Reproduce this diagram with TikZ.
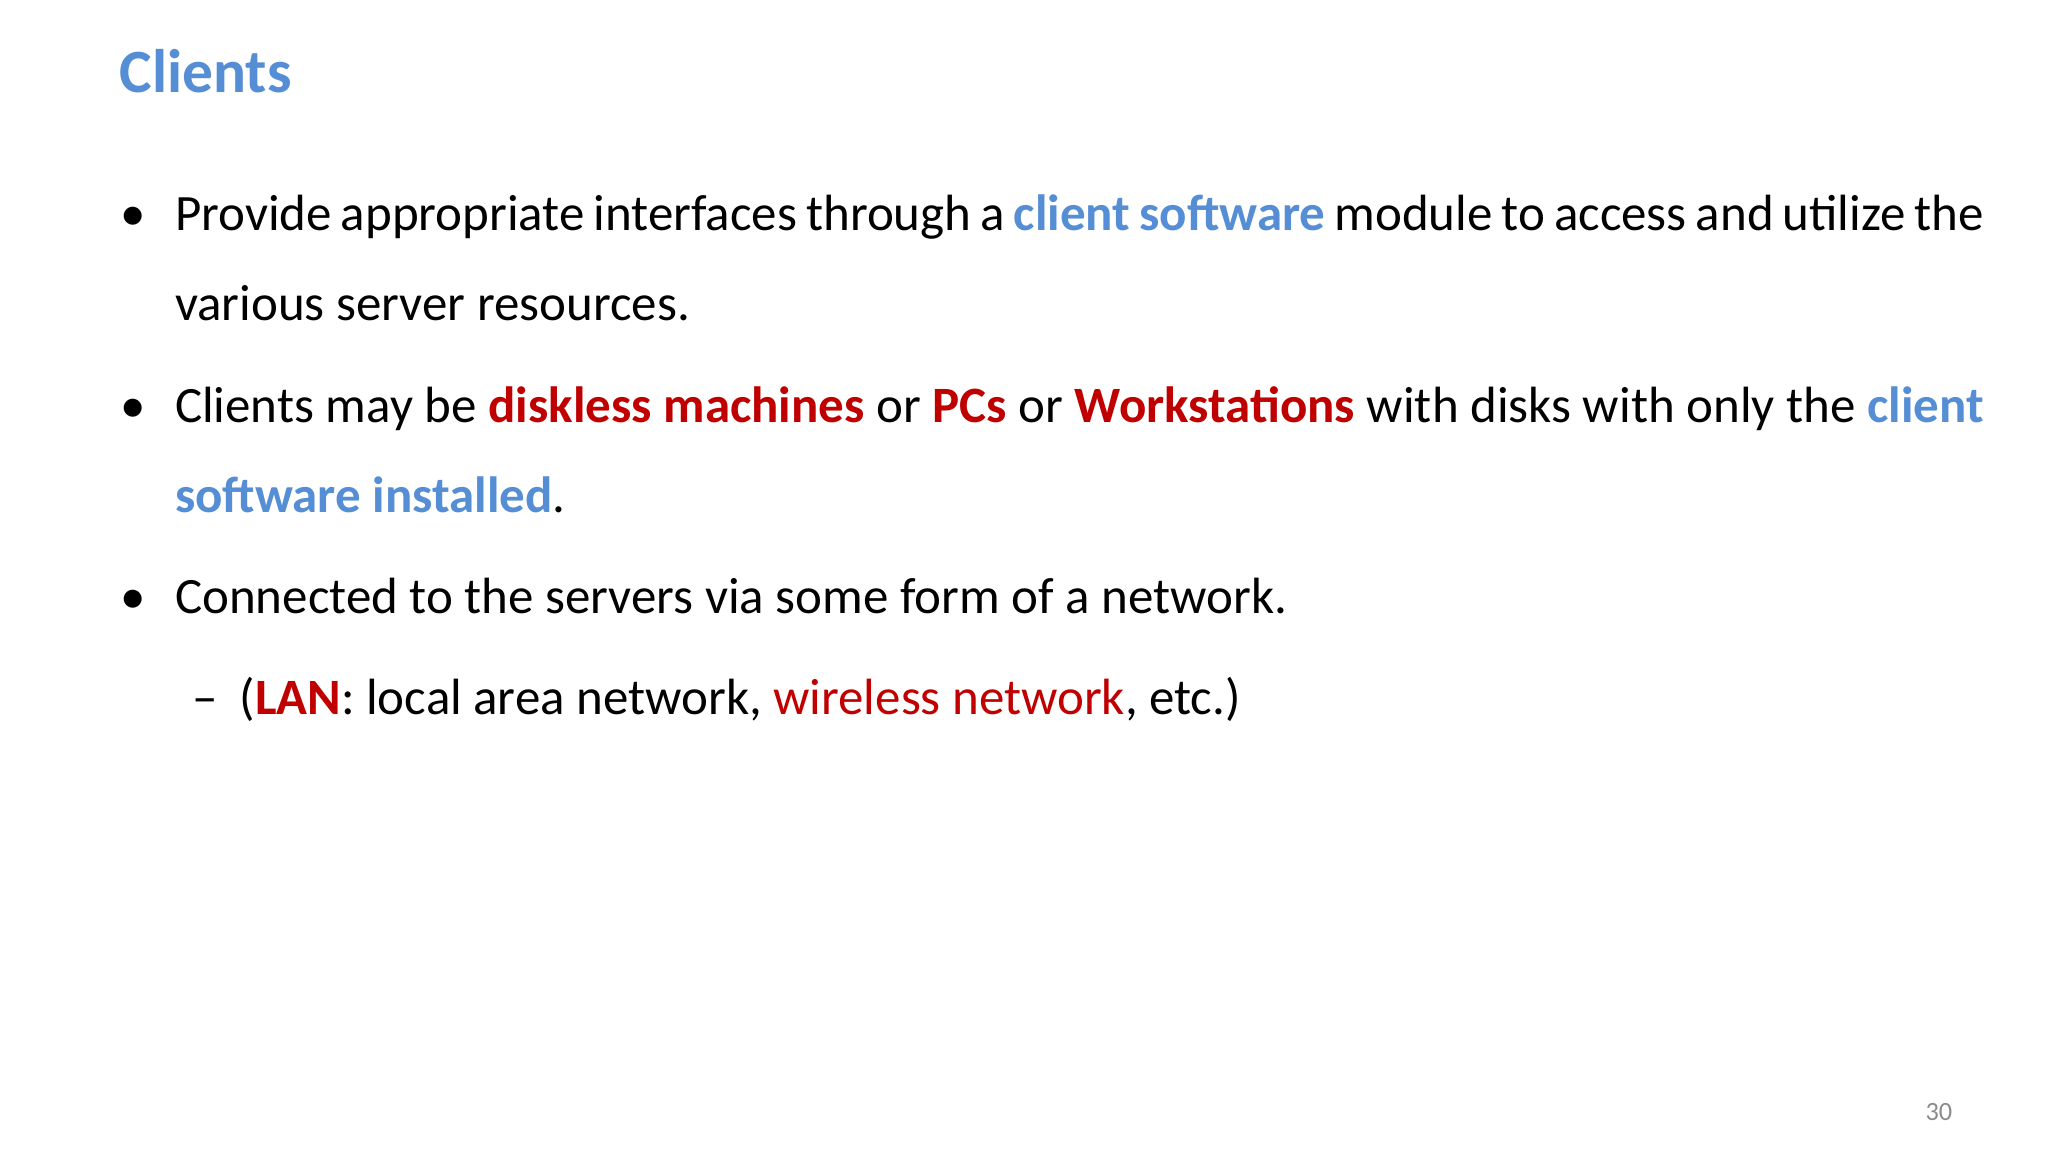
\documentclass[tikz,border=0pt]{standalone}
\usepackage{fontspec}
\setmainfont{Carlito}
\definecolor{tblue}{HTML}{558ED5}
\definecolor{tred}{HTML}{C00000}
\definecolor{pgrey}{HTML}{8C8C8C}
\begin{document}
\begin{tikzpicture}[x=1cm,y=-1cm,
  txt/.style={anchor=base west,inner sep=0pt,font=\fontsize{14.5}{17}\selectfont},
  bul/.style={anchor=base west,inner sep=0pt,font=\fontsize{14.5}{17}\selectfont}]
\useasboundingbox[fill=white] (0,0) rectangle (20.48,11.52);
\node[anchor=base west,inner sep=0pt,text=tblue,font=\fontsize{17.5}{20}\selectfont\bfseries] (title) at (1.19,0.925) {Clients};
\node[bul] (b1) at (1.2,2.31) {•};
\node[txt] (l1) at (1.744,2.31) {\makebox[18.09cm][s]{Provide appropriate interfaces through a \textcolor{tblue}{\bfseries client software} module to access and utilize the}};
\node[txt] (l2) at (1.744,3.21) {various server resources.};
\node[bul] (b2) at (1.2,4.23) {•};
\node[txt] (l3) at (1.744,4.23) {\makebox[18.09cm][s]{Clients may be \textcolor{tred}{\bfseries diskless machines} or \textcolor{tred}{\bfseries PCs} or \textcolor{tred}{\bfseries Workstations} with disks with only the \textcolor{tblue}{\bfseries client}}};
\node[txt] (l4) at (1.744,5.13) {\textcolor{tblue}{\bfseries software installed}.};
\node[bul] (b3) at (1.2,6.14) {•};
\node[txt] (l5) at (1.744,6.14) {Connected to the servers via some form of a network.};
\node[bul] (d1) at (1.92,7.15) {–};
\node[txt] (l6) at (2.39,7.15) {(\textcolor{tred}{\bfseries LAN}: local area network, \textcolor{tred}{wireless network}, etc.)};
\node[anchor=base east,inner sep=0pt,text=pgrey,font=\fontsize{7.5}{9}\selectfont] (pg) at (19.53,11.2) {30};
\end{tikzpicture}
\end{document}
